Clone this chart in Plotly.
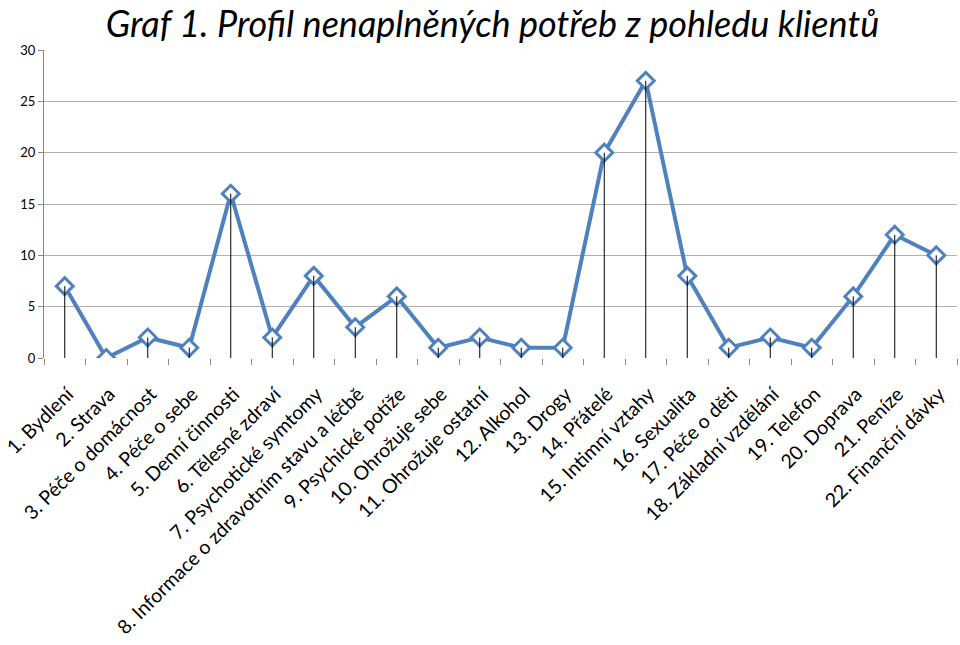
import plotly.graph_objects as go

categories = ["1. Bydlení", "2. Strava", "3. Péče o domácnost", "4. Péče o sebe",
              "5. Denní činnosti", "6. Tělesné zdraví", "7. Psychotické symtomy",
              "8. Informace o zdravotním stavu a léčbě", "9. Psychické potíže",
              "10. Ohrožuje sebe", "11. Ohrožuje ostatní", "12. Alkohol", "13. Drogy",
              "14. Přátelé", "15. Intimní vztahy", "16. Sexualita", "17. Péče o děti",
              "18. Základní vzdělání", "19. Telefon", "20. Doprava", "21. Peníze",
              "22. Finanční dávky"]
values = [7, 0, 2, 1, 16, 2, 8, 3, 6, 1, 2, 1, 1, 20, 27, 8, 1, 2, 1, 6, 12, 10]
y_ticks = [0, 5, 10, 15, 20, 25, 30]
title_text = "Graf 1. Profil nenaplněných potřeb z pohledu klientů"

FONT = "Lato"
BLUE = "#4F81BD"

fig = go.Figure()
fig.add_trace(go.Scatter(
    x=categories, y=values, mode="lines+markers",
    line=dict(color=BLUE, width=4),
    marker=dict(symbol="diamond", size=13, color="white",
                line=dict(color=BLUE, width=3)),
    showlegend=False, hoverinfo="x+y",
))
# drop lines from each point to zero
dx, dy = [], []
for c, v in zip(categories, values):
    dx += [c, c, None]
    dy += [0, v, None]
fig.add_trace(go.Scatter(
    x=dx, y=dy, mode="lines", line=dict(color="black", width=1),
    showlegend=False, hoverinfo="skip",
))

fig.update_layout(
    width=960, height=645,
    margin=dict(l=44, r=3, t=50, b=287),
    paper_bgcolor="white", plot_bgcolor="white",
    title=dict(text=title_text, x=0.513, xanchor="center",
               yref="container", y=0.962, yanchor="middle",
               font=dict(family=FONT, size=36, color="black", style="italic"),
               automargin=False),
    font=dict(family=FONT, color="black"),
)
fig.update_xaxes(
    type="category", tickangle=-45, tickson="boundaries",
    ticks="outside", ticklen=6, tickcolor="#868686",
    showgrid=False, showline=False, zeroline=False,
    tickfont=dict(family=FONT, size=19.5, color="black"),
    ticklabelshift=3, ticklabelstandoff=20, automargin=False,
    range=[-0.5, len(categories) - 0.5],
)
fig.update_yaxes(
    range=[0, 30], tickvals=y_ticks, ticks="outside", ticklen=5,
    tickcolor="#868686", showgrid=True, gridcolor="#B0B0B0", gridwidth=1,
    showline=True, linecolor="#868686", linewidth=1, zeroline=False,
    tickfont=dict(family=FONT, size=13, color="black"), automargin=False,
)
fig.write_html("out.html")
